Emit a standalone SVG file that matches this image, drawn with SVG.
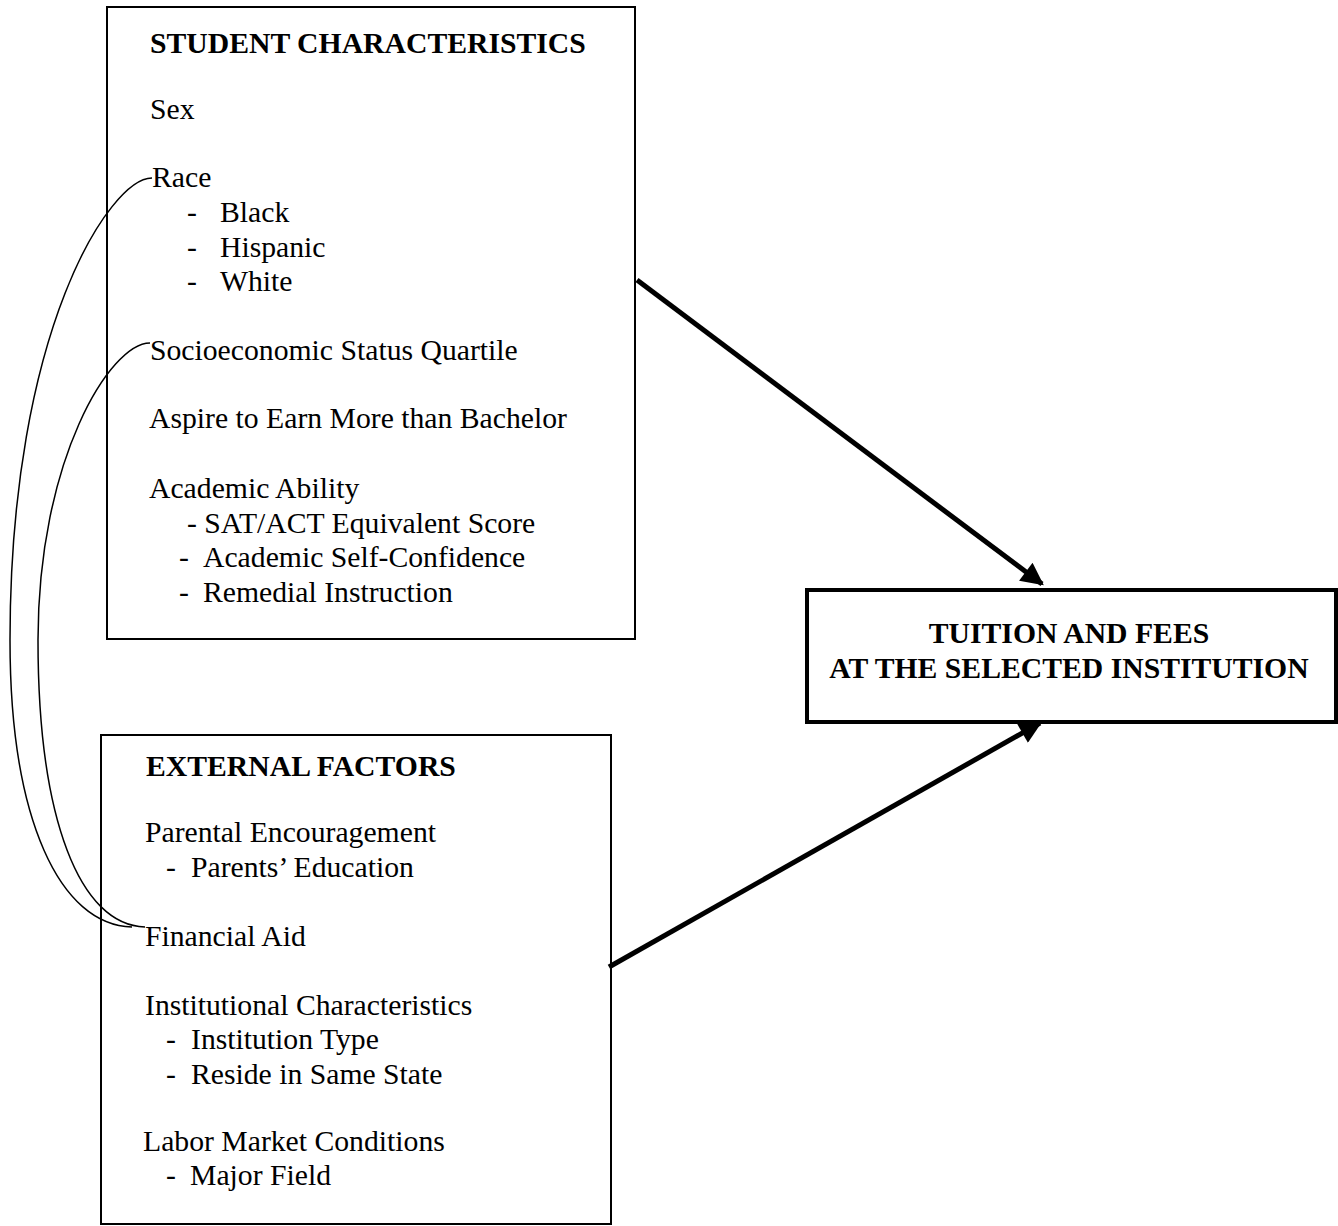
<svg xmlns="http://www.w3.org/2000/svg" width="1338" height="1226" viewBox="0 0 1338 1226">
<style>
text{font-family:"Liberation Serif","Times New Roman",serif;font-size:29.7px;fill:#000}
.b{font-weight:bold}
.box{fill:#fff;stroke:#000;stroke-width:2}
.tbox{fill:#fff;stroke:#000;stroke-width:4}
.arr{stroke:#000;stroke-width:5;fill:none;marker-end:url(#ah)}
.crv{stroke:#000;stroke-width:1.5;fill:none}
</style>
<defs>
<marker id="ah" viewBox="0 0 10 10" refX="9" refY="5" markerWidth="5" markerHeight="4.5" orient="auto" markerUnits="strokeWidth">
<path d="M0,0 L10,5 L0,10 z" fill="#000"/>
</marker>
</defs>
<rect width="1338" height="1226" fill="#fff"/>
<g id="student">
<rect class="box" x="107" y="7" width="528" height="632"/>
<text class="b" x="150" y="53">STUDENT CHARACTERISTICS</text>
<text x="150" y="119">Sex</text>
<text x="152" y="187">Race</text>
<text x="187" y="222">-</text><text x="220" y="222">Black</text>
<text x="187" y="257">-</text><text x="220" y="257">Hispanic</text>
<text x="187" y="291">-</text><text x="220" y="291">White</text>
<text x="150" y="360">Socioeconomic Status Quartile</text>
<text x="149" y="428">Aspire to Earn More than Bachelor</text>
<text x="149" y="498">Academic Ability</text>
<text x="187" y="533">- SAT/ACT Equivalent Score</text>
<text x="179" y="567">-</text><text x="203" y="567">Academic Self-Confidence</text>
<text x="179" y="602">-</text><text x="203" y="602">Remedial Instruction</text>
</g>
<g id="external">
<rect class="box" x="101" y="735" width="510" height="489"/>
<text class="b" x="146" y="776">EXTERNAL FACTORS</text>
<text x="145" y="842">Parental Encouragement</text>
<text x="166" y="877">-</text><text x="191" y="877">Parents’ Education</text>
<text x="145" y="946">Financial Aid</text>
<text x="145" y="1015">Institutional Characteristics</text>
<text x="166" y="1049">-</text><text x="191" y="1049">Institution Type</text>
<text x="166" y="1084">-</text><text x="191" y="1084">Reside in Same State</text>
<text x="143" y="1151">Labor Market Conditions</text>
<text x="166" y="1185">-</text><text x="190" y="1185">Major Field</text>
</g>
<g id="tuition">
<rect class="tbox" x="807" y="590" width="529" height="132"/>
<text class="b" x="1069" y="643" text-anchor="middle">TUITION AND FEES</text>
<text class="b" x="1069" y="678" text-anchor="middle">AT THE SELECTED INSTITUTION</text>
</g>
<g id="connectors">
<path class="arr" d="M637,280 L1042,584"/>
<path class="arr" d="M609,967 L1040,723"/>
<path class="crv" d="M152,178 C110,178 10,330 10,640 C10,820 60,925 132,927"/>
<path class="crv" d="M150,343 C110,343 38,460 38,640 C38,820 80,925 145,927"/>
</g>
</svg>
